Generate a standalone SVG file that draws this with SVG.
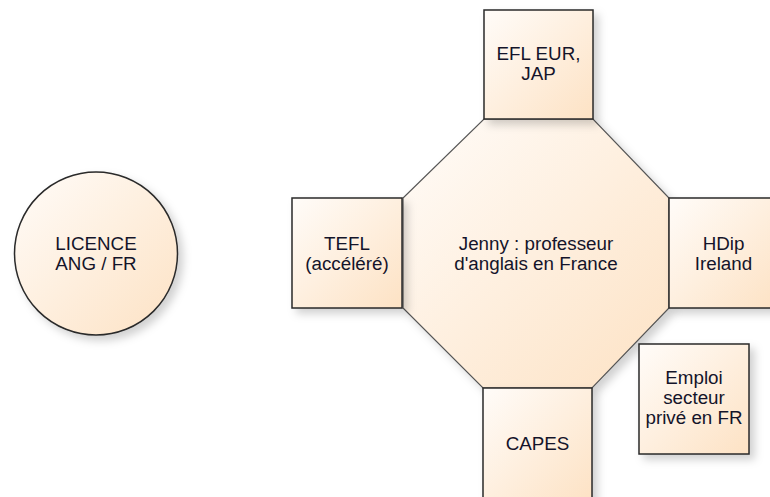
<svg xmlns="http://www.w3.org/2000/svg" width="770" height="497" viewBox="0 0 770 497">
  <defs>
    <linearGradient id="fill" x1="0" y1="0" x2="1" y2="1">
      <stop offset="0" stop-color="#fffcf9"/>
      <stop offset="1" stop-color="#fde2c4"/>
    </linearGradient>
    <filter id="shadow" x="-20%" y="-20%" width="150%" height="150%">
      <feDropShadow dx="5" dy="5" stdDeviation="4" flood-color="#000" flood-opacity="0.18"/>
    </filter>
  </defs>
  <style>
    .box { fill: url(#fill); stroke: #2a2a2a; stroke-width: 1.5; filter: url(#shadow); }
    .oct { fill: url(#fill); stroke: #555; stroke-width: 1.2; filter: url(#shadow); }
    .lbl { font-family: "Liberation Sans", Arial, sans-serif; font-size: 18.8px; fill: #14142a; text-anchor: middle; }
  </style>
  <rect width="770" height="497" fill="#fff"/>
  <g id="connectors"/>
  <g id="licence">
    <circle class="box" cx="96" cy="253.5" r="81.5"/>
    <text class="lbl" x="96" y="249.5">LICENCE</text>
    <text class="lbl" x="96" y="270">ANG / FR</text>
  </g>
  <g id="jenny">
    <polygon class="oct" points="484,119 593,119 669,198 669,308 592,388 483,388 403,308 403,198"/>
    <text class="lbl" x="536" y="249.5">Jenny : professeur</text>
    <text class="lbl" x="536" y="269.5">d'anglais en France</text>
  </g>
  <g id="efl">
    <rect class="box" x="484" y="10" width="109" height="109"/>
    <text class="lbl" x="538.5" y="60">EFL EUR,</text>
    <text class="lbl" x="538.5" y="80">JAP</text>
  </g>
  <g id="tefl">
    <rect class="box" x="292" y="198" width="110" height="110"/>
    <text class="lbl" x="347" y="249.5">TEFL</text>
    <text class="lbl" x="347" y="269.5">(accéléré)</text>
  </g>
  <g id="hdip">
    <rect class="box" x="669" y="198" width="109" height="110"/>
    <text class="lbl" x="723.5" y="249.5">HDip</text>
    <text class="lbl" x="723.5" y="269.5">Ireland</text>
  </g>
  <g id="capes">
    <rect class="box" x="483" y="388" width="109" height="115"/>
    <text class="lbl" x="537.5" y="450">CAPES</text>
  </g>
  <g id="emploi">
    <rect class="box" x="639" y="344" width="110" height="110"/>
    <text class="lbl" x="694" y="383.5">Emploi</text>
    <text class="lbl" x="694" y="403.5">secteur</text>
    <text class="lbl" x="694" y="423.5">privé en FR</text>
  </g>
</svg>
